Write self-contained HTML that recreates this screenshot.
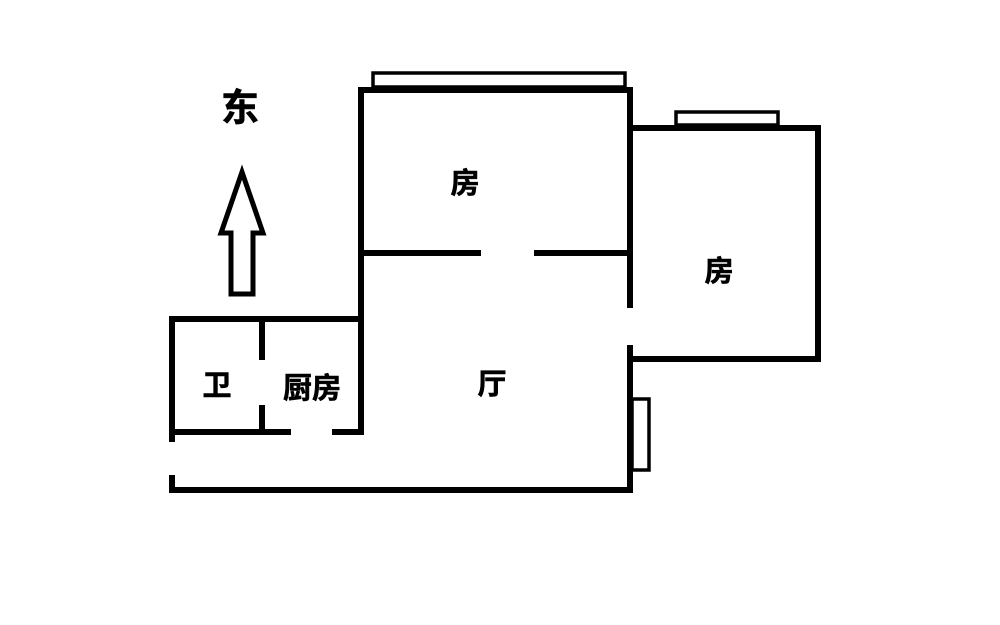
<!DOCTYPE html>
<html><head><meta charset="utf-8"><style>
body{margin:0;background:#fff;width:1000px;height:620px;overflow:hidden}
</style></head><body>
<svg width="1000" height="620" xmlns="http://www.w3.org/2000/svg">
<g fill="none" stroke="#000" stroke-width="6">
<path d="M361 90 H630 V308 M630 345 V490 H172 V475 M172 442 V319 H361 M361 87 V435 M361 253 H481 M534 253 H630"/>
<path d="M630 128 H818 V359 H630"/>
<path d="M172 432 H291 M332 432 H361 M262 319 V360 M262 405 V432"/>
</g>
<g fill="none" stroke="#000" stroke-width="3.5">
<rect x="373" y="73" width="252" height="14"/>
<rect x="676" y="112" width="102" height="13"/>
<rect x="632" y="399" width="17" height="71"/>
</g>
<path d="M231 294 V233 H221 L242 172 L263 233 H253 V294 Z" fill="none" stroke="#000" stroke-width="5" stroke-linejoin="miter"/>
<g font-family="'Liberation Sans','Noto Sans CJK SC',sans-serif" font-weight="bold" fill="#000" text-anchor="middle" stroke="#000" stroke-width="0.6">
<text x="240" y="121" font-size="38">东</text>
<text x="465" y="193" font-size="29">房</text>
<text x="719" y="281" font-size="29">房</text>
<text x="492" y="394" font-size="29">厅</text>
<text x="217" y="395" font-size="29">卫</text>
<text x="312" y="398" font-size="29">厨房</text>
</g>
</svg>
</body></html>
